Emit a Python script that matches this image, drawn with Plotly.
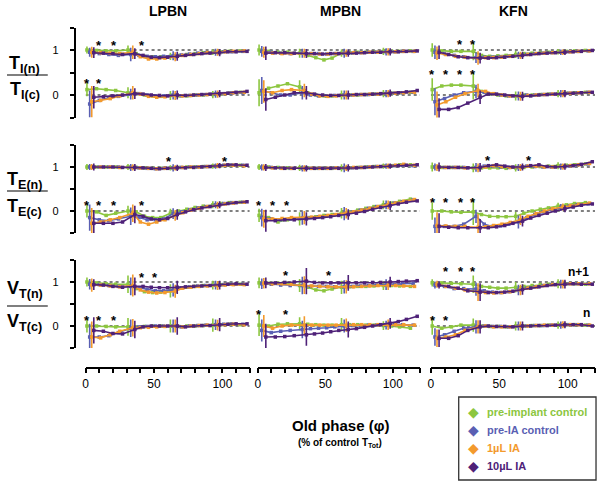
import plotly.graph_objects as go

# ---------------- data ----------------
SERIES = ["pre-implant control", "pre-IA control", "1µL IA", "10µL IA"]
COLORS = ["#8cc63f", "#5a5fb3", "#f39a2d", "#4e2178"]
NUCLEI = ["LPBN", "MPBN", "KFN"]

# old phase (% of control TTot) for each series
X_GREEN = [1, 8, 15, 22, 31, 37, 43, 49, 55, 62, 68, 74, 80, 86, 93, 99, 105, 113]
X_BLUE = [3, 10, 17, 24, 33, 39, 45, 51, 57, 64, 70, 76, 82, 88, 95, 101, 107, 115]
X_ORANGE = [4.5, 11, 18, 25, 34.5, 40, 46, 52, 58, 65.5, 71, 77, 83, 89, 96.5, 102, 108, 116]
X_PURPLE = [6, 13, 20, 27, 36, 42, 48, 54, 60, 67, 73, 79, 85, 91, 98, 104, 110, 118]
X_SERIES = [X_GREEN, X_BLUE, X_ORANGE, X_PURPLE]
ERR_IDX = [0, 4, 9, 14]  # points carrying SEM bars

# ---- TI ----
LPBN_TI_N1 = [
    [1.00, 0.99, 0.98, 0.98, 1.00, 0.92, 0.86, 0.85, 0.85, 0.86, 0.88, 0.90, 0.92, 0.94, 0.95, 0.96, 0.97, 0.98],
    [0.95, 0.92, 0.90, 0.88, 0.90, 0.88, 0.86, 0.85, 0.86, 0.87, 0.89, 0.91, 0.93, 0.94, 0.95, 0.96, 0.96, 0.97],
    [0.95, 0.94, 0.93, 0.92, 0.95, 0.85, 0.80, 0.80, 0.82, 0.85, 0.88, 0.90, 0.92, 0.94, 0.95, 0.96, 0.97, 0.98],
    [0.94, 0.93, 0.92, 0.90, 0.92, 0.88, 0.84, 0.83, 0.84, 0.86, 0.88, 0.90, 0.92, 0.93, 0.94, 0.96, 0.96, 0.97]]
LPBN_TI_N1_ERR = [[0.08, 0.10, 0.08, 0.06], [0.10, 0.15, 0.10, 0.08], [0.12, 0.15, 0.10, 0.08], [0.12, 0.12, 0.10, 0.08]]
LPBN_TI_N = [
    [0.12, 0.14, 0.12, 0.10, 0.05, 0.03, 0.00, -0.02, -0.03, -0.01, -0.02, -0.02, 0.00, 0.00, 0.01, 0.02, 0.04, 0.06],
    [-0.20, -0.12, -0.06, -0.03, 0.02, 0.03, 0.00, -0.02, -0.02, 0.00, -0.02, -0.01, 0.00, 0.01, 0.02, 0.03, 0.04, 0.05],
    [-0.15, -0.12, -0.08, -0.02, 0.05, 0.02, -0.03, -0.05, -0.04, -0.01, -0.02, -0.01, 0.00, 0.01, 0.02, 0.03, 0.05, 0.06],
    [-0.05, -0.04, -0.02, 0.00, 0.03, 0.02, 0.00, -0.01, -0.02, 0.00, -0.01, 0.00, 0.01, 0.02, 0.03, 0.04, 0.06, 0.08]]
LPBN_TI_N_ERR = [[0.15, 0.12, 0.10, 0.08], [0.30, 0.12, 0.10, 0.08], [0.35, 0.15, 0.10, 0.08], [0.25, 0.12, 0.10, 0.08]]

MPBN_TI_N1 = [
    [1.00, 0.97, 0.95, 0.95, 0.93, 0.88, 0.83, 0.78, 0.82, 0.93, 0.94, 0.95, 0.95, 0.96, 0.97, 0.97, 0.97, 0.98],
    [0.97, 0.95, 0.93, 0.92, 0.93, 0.92, 0.92, 0.91, 0.92, 0.93, 0.93, 0.94, 0.95, 0.95, 0.96, 0.96, 0.97, 0.97],
    [0.95, 0.93, 0.92, 0.92, 0.93, 0.92, 0.91, 0.91, 0.92, 0.93, 0.94, 0.94, 0.95, 0.95, 0.96, 0.96, 0.97, 0.97],
    [0.93, 0.94, 0.94, 0.93, 0.92, 0.92, 0.91, 0.92, 0.92, 0.93, 0.93, 0.94, 0.95, 0.95, 0.96, 0.96, 0.97, 0.98]]
MPBN_TI_N1_ERR = [[0.12, 0.10, 0.08, 0.08], [0.12, 0.10, 0.10, 0.08], [0.12, 0.10, 0.08, 0.08], [0.15, 0.10, 0.08, 0.08]]
MPBN_TI_N = [
    [0.05, 0.15, 0.20, 0.25, 0.18, 0.05, 0.00, -0.02, -0.02, 0.00, 0.00, 0.00, 0.01, 0.02, 0.03, 0.04, 0.05, 0.06],
    [0.10, 0.05, 0.00, 0.00, 0.05, 0.00, -0.02, -0.02, -0.01, 0.00, 0.00, 0.01, 0.01, 0.02, 0.03, 0.04, 0.05, 0.06],
    [0.08, 0.05, 0.10, 0.12, 0.10, 0.02, -0.02, -0.03, -0.02, 0.00, 0.00, 0.01, 0.02, 0.02, 0.03, 0.04, 0.05, 0.06],
    [-0.10, -0.05, 0.00, 0.05, 0.05, 0.02, 0.00, -0.01, -0.01, 0.00, 0.01, 0.01, 0.02, 0.03, 0.04, 0.05, 0.07, 0.10]]
MPBN_TI_N_ERR = [[0.30, 0.15, 0.10, 0.08], [0.30, 0.15, 0.10, 0.08], [0.25, 0.15, 0.10, 0.08], [0.25, 0.15, 0.10, 0.08]]

KFN_TI_N1 = [
    [1.00, 0.98, 0.97, 0.97, 0.97, 0.88, 0.86, 0.87, 0.88, 0.90, 0.92, 0.93, 0.94, 0.95, 0.96, 0.97, 0.98, 0.99],
    [0.95, 0.92, 0.88, 0.85, 0.83, 0.84, 0.84, 0.85, 0.86, 0.88, 0.90, 0.92, 0.93, 0.94, 0.95, 0.96, 0.97, 0.98],
    [0.93, 0.90, 0.86, 0.84, 0.82, 0.83, 0.83, 0.84, 0.86, 0.88, 0.90, 0.92, 0.93, 0.94, 0.95, 0.96, 0.97, 0.98],
    [0.95, 0.90, 0.85, 0.83, 0.82, 0.82, 0.83, 0.84, 0.86, 0.88, 0.90, 0.92, 0.93, 0.94, 0.95, 0.96, 0.97, 0.99]]
KFN_TI_N1_ERR = [[0.15, 0.20, 0.08, 0.06], [0.15, 0.12, 0.08, 0.06], [0.15, 0.15, 0.08, 0.06], [0.15, 0.12, 0.08, 0.06]]
KFN_TI_N = [
    [0.12, 0.20, 0.22, 0.22, 0.20, 0.08, 0.02, 0.00, -0.02, -0.02, 0.00, 0.00, 0.01, 0.02, 0.03, 0.04, 0.05, 0.06],
    [-0.15, -0.08, 0.00, 0.05, 0.08, 0.06, 0.02, 0.00, -0.02, -0.02, 0.00, 0.00, 0.01, 0.02, 0.03, 0.04, 0.05, 0.06],
    [-0.22, -0.15, -0.05, 0.03, 0.10, 0.08, 0.03, 0.00, -0.02, -0.03, -0.01, 0.00, 0.01, 0.02, 0.03, 0.04, 0.05, 0.06],
    [-0.32, -0.32, -0.28, -0.18, -0.05, 0.02, 0.02, 0.00, -0.02, -0.03, -0.02, 0.00, 0.01, 0.02, 0.03, 0.04, 0.05, 0.06]]
KFN_TI_N_ERR = [[0.25, 0.30, 0.10, 0.08], [0.30, 0.15, 0.10, 0.08], [0.30, 0.15, 0.10, 0.08], [0.25, 0.15, 0.10, 0.08]]

# ---- TE ----
LPBN_TE_N1 = [
    [1.00, 1.00, 1.00, 1.00, 1.00, 0.99, 0.98, 0.97, 0.97, 0.98, 0.99, 1.00, 1.00, 1.01, 1.02, 1.03, 1.04, 1.04],
    [1.00, 1.00, 1.00, 1.00, 0.99, 0.98, 0.97, 0.96, 0.97, 0.98, 0.99, 1.00, 1.00, 1.01, 1.02, 1.04, 1.05, 1.04],
    [1.00, 1.00, 1.00, 0.99, 0.99, 0.98, 0.97, 0.96, 0.97, 0.98, 0.99, 1.00, 1.00, 1.01, 1.03, 1.04, 1.04, 1.03],
    [1.00, 1.00, 1.00, 0.99, 0.99, 0.98, 0.97, 0.96, 0.97, 0.98, 0.98, 0.99, 1.00, 1.01, 1.03, 1.05, 1.05, 1.04]]
LPBN_TE_N1_ERR = [[0.07, 0.07, 0.06, 0.06], [0.07, 0.08, 0.08, 0.06], [0.07, 0.07, 0.06, 0.06], [0.08, 0.08, 0.07, 0.06]]
LPBN_TE_N = [
    [0.00, -0.02, -0.10, -0.05, 0.00, -0.02, -0.12, -0.15, -0.15, -0.05, 0.00, 0.04, 0.08, 0.11, 0.14, 0.17, 0.19, 0.20],
    [-0.15, -0.20, -0.22, -0.18, -0.12, -0.15, -0.20, -0.20, -0.18, -0.06, -0.02, 0.03, 0.07, 0.10, 0.14, 0.17, 0.19, 0.20],
    [-0.28, -0.25, -0.20, -0.15, -0.05, -0.25, -0.30, -0.25, -0.20, -0.10, -0.04, 0.02, 0.06, 0.10, 0.13, 0.16, 0.18, 0.20],
    [-0.28, -0.28, -0.28, -0.25, -0.08, -0.12, -0.18, -0.20, -0.17, -0.08, -0.02, 0.03, 0.07, 0.10, 0.14, 0.17, 0.19, 0.21]]
LPBN_TE_N_ERR = [[0.15, 0.12, 0.10, 0.08], [0.30, 0.20, 0.12, 0.08], [0.35, 0.20, 0.12, 0.08], [0.30, 0.20, 0.12, 0.08]]

MPBN_TE_N1 = [
    [1.00, 1.00, 0.99, 0.98, 0.98, 0.98, 0.97, 0.97, 0.97, 0.98, 0.98, 0.99, 1.00, 1.01, 1.02, 1.03, 1.05, 1.05],
    [0.99, 0.99, 0.98, 0.97, 0.97, 0.97, 0.97, 0.97, 0.98, 0.98, 0.98, 0.99, 1.00, 1.01, 1.02, 1.03, 1.04, 1.03],
    [0.99, 0.98, 0.97, 0.97, 0.97, 0.97, 0.97, 0.97, 0.98, 0.98, 0.99, 0.99, 1.00, 1.01, 1.02, 1.04, 1.06, 1.04],
    [0.99, 0.98, 0.97, 0.97, 0.97, 0.97, 0.97, 0.97, 0.97, 0.98, 0.98, 0.99, 1.00, 1.01, 1.02, 1.03, 1.04, 1.05]]
MPBN_TE_N1_ERR = [[0.07, 0.07, 0.08, 0.06], [0.07, 0.07, 0.10, 0.06], [0.07, 0.07, 0.07, 0.06], [0.08, 0.07, 0.08, 0.06]]
MPBN_TE_N = [
    [-0.10, -0.15, -0.25, -0.20, -0.18, -0.15, -0.13, -0.10, -0.08, -0.05, -0.02, 0.02, 0.06, 0.10, 0.14, 0.18, 0.22, 0.27],
    [-0.15, -0.18, -0.20, -0.18, -0.16, -0.15, -0.13, -0.11, -0.09, -0.06, -0.02, 0.02, 0.06, 0.10, 0.14, 0.18, 0.21, 0.25],
    [-0.18, -0.18, -0.17, -0.15, -0.15, -0.14, -0.12, -0.10, -0.08, -0.05, -0.02, 0.02, 0.06, 0.10, 0.14, 0.18, 0.22, 0.26],
    [-0.22, -0.22, -0.20, -0.20, -0.18, -0.17, -0.15, -0.13, -0.10, -0.08, -0.05, -0.01, 0.04, 0.08, 0.12, 0.16, 0.20, 0.23]]
MPBN_TE_N_ERR = [[0.15, 0.15, 0.12, 0.10], [0.20, 0.15, 0.15, 0.10], [0.20, 0.15, 0.12, 0.10], [0.25, 0.15, 0.12, 0.10]]

KFN_TE_N1 = [
    [1.00, 0.99, 0.99, 0.99, 0.98, 0.98, 0.98, 0.98, 0.97, 0.98, 0.99, 1.00, 1.01, 1.02, 1.03, 1.04, 1.05, 1.07],
    [1.00, 0.99, 0.99, 0.99, 0.99, 1.02, 1.02, 1.00, 0.99, 0.99, 1.02, 1.01, 1.00, 1.00, 1.01, 1.02, 1.04, 1.07],
    [0.99, 0.99, 0.99, 0.98, 0.98, 1.00, 1.03, 1.01, 0.99, 0.99, 1.02, 1.02, 1.00, 1.00, 1.01, 1.03, 1.05, 1.08],
    [1.00, 0.99, 0.99, 0.98, 0.99, 1.03, 1.05, 1.02, 1.00, 1.00, 1.03, 1.05, 1.01, 1.00, 1.01, 1.03, 1.06, 1.12]]
KFN_TE_N1_ERR = [[0.10, 0.10, 0.08, 0.08], [0.08, 0.10, 0.08, 0.07], [0.08, 0.10, 0.08, 0.07], [0.10, 0.10, 0.08, 0.07]]
KFN_TE_N = [
    [0.00, 0.00, -0.02, -0.03, -0.02, -0.08, -0.12, -0.13, -0.13, -0.12, -0.05, 0.00, 0.04, 0.07, 0.11, 0.14, 0.17, 0.19],
    [-0.35, -0.35, -0.35, -0.30, -0.12, -0.30, -0.35, -0.34, -0.30, -0.25, -0.15, -0.08, -0.02, 0.03, 0.08, 0.11, 0.14, 0.16],
    [-0.33, -0.34, -0.35, -0.35, -0.37, -0.36, -0.33, -0.30, -0.26, -0.20, -0.12, -0.06, 0.00, 0.05, 0.09, 0.12, 0.15, 0.18],
    [-0.35, -0.37, -0.38, -0.38, -0.38, -0.38, -0.36, -0.33, -0.28, -0.23, -0.16, -0.10, -0.05, 0.00, 0.05, 0.09, 0.13, 0.16]]
KFN_TE_N_ERR = [[0.20, 0.30, 0.10, 0.08], [0.20, 0.15, 0.15, 0.08], [0.30, 0.30, 0.12, 0.08], [0.30, 0.20, 0.12, 0.08]]

# ---- VT ----
LPBN_VT_N1 = [
    [1.00, 0.98, 0.96, 0.95, 0.95, 0.85, 0.78, 0.76, 0.77, 0.80, 0.86, 0.88, 0.90, 0.92, 0.93, 0.94, 0.95, 0.95],
    [0.95, 0.94, 0.92, 0.90, 0.90, 0.87, 0.83, 0.80, 0.80, 0.82, 0.87, 0.89, 0.91, 0.92, 0.93, 0.94, 0.95, 0.95],
    [0.93, 0.93, 0.91, 0.89, 0.92, 0.82, 0.77, 0.75, 0.76, 0.79, 0.86, 0.88, 0.90, 0.91, 0.92, 0.93, 0.94, 0.94],
    [0.94, 0.93, 0.90, 0.88, 0.90, 0.90, 0.88, 0.87, 0.87, 0.88, 0.89, 0.90, 0.91, 0.92, 0.93, 0.95, 0.96, 0.95]]
LPBN_VT_N1_ERR = [[0.10, 0.20, 0.15, 0.10], [0.12, 0.20, 0.15, 0.10], [0.15, 0.25, 0.15, 0.10], [0.12, 0.20, 0.15, 0.10]]
LPBN_VT_N = [
    [0.00, 0.00, -0.01, -0.02, -0.02, -0.02, -0.01, 0.00, 0.00, 0.00, -0.01, 0.00, 0.00, 0.01, 0.02, 0.03, 0.04, 0.03],
    [-0.25, -0.25, -0.22, -0.15, -0.05, -0.02, -0.01, 0.00, 0.00, 0.00, -0.02, 0.00, 0.01, 0.02, 0.03, 0.04, 0.05, 0.04],
    [-0.25, -0.27, -0.20, -0.12, -0.04, -0.04, -0.03, -0.02, -0.01, 0.00, -0.02, 0.00, 0.01, 0.02, 0.02, 0.03, 0.04, 0.03],
    [-0.10, -0.12, -0.17, -0.18, -0.08, -0.02, 0.00, 0.00, 0.00, 0.00, -0.02, 0.00, 0.01, 0.01, 0.03, 0.04, 0.05, 0.05]]
LPBN_VT_N_ERR = [[0.15, 0.20, 0.15, 0.15], [0.30, 0.20, 0.15, 0.12], [0.35, 0.20, 0.15, 0.12], [0.30, 0.20, 0.20, 0.15]]

MPBN_VT_N1 = [
    [0.98, 0.97, 0.97, 0.97, 0.92, 0.88, 0.82, 0.80, 0.84, 0.88, 0.89, 0.90, 0.90, 0.91, 0.92, 0.92, 0.91, 0.90],
    [0.96, 0.95, 0.93, 0.92, 0.92, 0.90, 0.90, 0.90, 0.89, 0.89, 0.90, 0.91, 0.92, 0.93, 0.94, 0.95, 0.96, 0.97],
    [0.97, 0.96, 0.96, 0.95, 0.93, 0.91, 0.90, 0.89, 0.89, 0.89, 0.89, 0.90, 0.91, 0.92, 0.92, 0.92, 0.91, 0.90],
    [0.98, 0.98, 0.99, 1.00, 1.02, 0.99, 0.98, 0.98, 0.98, 0.98, 0.98, 0.98, 0.99, 0.99, 1.00, 1.01, 1.02, 1.03]]
MPBN_VT_N1_ERR = [[0.12, 0.15, 0.15, 0.10], [0.12, 0.20, 0.15, 0.12], [0.12, 0.20, 0.15, 0.10], [0.12, 0.30, 0.18, 0.12]]
MPBN_VT_N = [
    [0.02, 0.00, 0.04, 0.05, 0.05, 0.04, 0.03, 0.02, 0.02, 0.03, 0.03, 0.03, 0.02, 0.02, 0.01, 0.00, -0.02, -0.05],
    [-0.10, -0.15, -0.12, -0.10, -0.08, -0.06, -0.05, -0.04, -0.02, 0.00, 0.01, 0.01, 0.02, 0.02, 0.02, 0.03, 0.03, 0.02],
    [0.00, -0.05, 0.00, 0.02, 0.02, 0.02, 0.02, 0.02, 0.02, 0.02, 0.03, 0.03, 0.03, 0.03, 0.03, 0.03, 0.03, 0.02],
    [-0.25, -0.25, -0.24, -0.22, -0.20, -0.18, -0.16, -0.13, -0.10, -0.08, -0.06, -0.03, 0.00, 0.03, 0.06, 0.10, 0.15, 0.22]]
MPBN_VT_N_ERR = [[0.25, 0.15, 0.15, 0.10], [0.25, 0.20, 0.15, 0.10], [0.25, 0.20, 0.15, 0.12], [0.30, 0.25, 0.18, 0.12]]

KFN_VT_N1 = [
    [0.98, 0.98, 0.97, 0.96, 0.95, 0.90, 0.88, 0.86, 0.86, 0.88, 0.90, 0.92, 0.94, 0.95, 0.96, 0.96, 0.96, 0.95],
    [0.93, 0.90, 0.85, 0.85, 0.84, 0.80, 0.77, 0.76, 0.78, 0.82, 0.86, 0.89, 0.92, 0.94, 0.95, 0.96, 0.96, 0.96],
    [0.95, 0.90, 0.86, 0.82, 0.77, 0.76, 0.75, 0.76, 0.78, 0.82, 0.86, 0.89, 0.92, 0.94, 0.95, 0.96, 0.96, 0.96],
    [0.93, 0.90, 0.86, 0.80, 0.77, 0.76, 0.76, 0.77, 0.79, 0.83, 0.86, 0.89, 0.92, 0.94, 0.95, 0.96, 0.95, 0.95]]
KFN_VT_N1_ERR = [[0.08, 0.20, 0.12, 0.10], [0.08, 0.15, 0.12, 0.10], [0.08, 0.20, 0.12, 0.10], [0.08, 0.20, 0.12, 0.10]]
KFN_VT_N = [
    [0.00, -0.05, -0.02, 0.02, 0.02, 0.00, -0.01, -0.01, -0.02, 0.00, 0.00, 0.01, 0.01, 0.02, 0.02, 0.03, 0.03, 0.02],
    [-0.25, -0.20, -0.12, -0.05, -0.02, 0.00, -0.01, -0.01, -0.02, 0.00, 0.00, 0.01, 0.01, 0.02, 0.02, 0.03, 0.03, 0.02],
    [-0.28, -0.25, -0.20, -0.10, -0.02, 0.00, -0.02, -0.02, -0.02, 0.00, 0.00, 0.01, 0.02, 0.02, 0.03, 0.03, 0.03, 0.02],
    [-0.28, -0.28, -0.22, -0.10, -0.02, 0.00, -0.01, -0.01, -0.02, 0.00, 0.00, 0.01, 0.01, 0.02, 0.03, 0.03, 0.03, 0.00]]
KFN_VT_N_ERR = [[0.20, 0.15, 0.10, 0.08], [0.20, 0.15, 0.10, 0.08], [0.20, 0.15, 0.10, 0.08], [0.20, 0.15, 0.10, 0.08]]

# significance markers (old phase, height)
LPBN_TI_STARS = [(10, 1.17), (21, 1.17), (41, 1.17), (1, 0.33), (10, 0.33)]
MPBN_TI_STARS = []
KFN_TI_STARS = [(21, 1.2), (31, 1.2), (1, 0.52), (11, 0.52), (21, 0.52), (31, 0.52)]
LPBN_TE_STARS = [(61, 1.19), (102, 1.19), (1, 0.2), (10, 0.2), (21, 0.2), (41, 0.2)]
MPBN_TE_STARS = [(1, 0.2), (11, 0.2), (22, 0.2)]
KFN_TE_STARS = [(42, 1.21), (72, 1.21), (1.5, 0.27), (11, 0.27), (22, 0.27), (31, 0.27)]
LPBN_VT_STARS = [(41, 1.17), (51, 1.17), (1, 0.19), (10, 0.19), (21, 0.19)]
MPBN_VT_STARS = [(21, 1.21), (53, 1.21), (1, 0.34), (21, 0.34)]
KFN_VT_STARS = [(11, 1.3), (22, 1.3), (31, 1.3), (1.5, 0.19), (11, 0.19)]

X_TICKS = list(range(0, 121, 10))
X_TICKTEXT = ["0" if t == 0 else "50" if t == 50 else "100" if t == 100 else "" for t in X_TICKS]

PANELS = [
    [(LPBN_TI_N1, LPBN_TI_N1_ERR, LPBN_TI_N, LPBN_TI_N_ERR, LPBN_TI_STARS),
     (MPBN_TI_N1, MPBN_TI_N1_ERR, MPBN_TI_N, MPBN_TI_N_ERR, MPBN_TI_STARS),
     (KFN_TI_N1, KFN_TI_N1_ERR, KFN_TI_N, KFN_TI_N_ERR, KFN_TI_STARS)],
    [(LPBN_TE_N1, LPBN_TE_N1_ERR, LPBN_TE_N, LPBN_TE_N_ERR, LPBN_TE_STARS),
     (MPBN_TE_N1, MPBN_TE_N1_ERR, MPBN_TE_N, MPBN_TE_N_ERR, MPBN_TE_STARS),
     (KFN_TE_N1, KFN_TE_N1_ERR, KFN_TE_N, KFN_TE_N_ERR, KFN_TE_STARS)],
    [(LPBN_VT_N1, LPBN_VT_N1_ERR, LPBN_VT_N, LPBN_VT_N_ERR, LPBN_VT_STARS),
     (MPBN_VT_N1, MPBN_VT_N1_ERR, MPBN_VT_N, MPBN_VT_N_ERR, MPBN_VT_STARS),
     (KFN_VT_N1, KFN_VT_N1_ERR, KFN_VT_N, KFN_VT_N_ERR, KFN_VT_STARS)],
]
ROW_LABELS = [("T", "I"), ("T", "E"), ("V", "T")]

# ---------------- layout ----------------
W, H = 600, 485
FONT = "Arial, 'Liberation Sans', Helvetica, sans-serif"


def px(xp):
    return xp / W


def py(yp):
    return 1 - yp / H


def ann(x, y, text, size, color="black", xanchor="center", family=FONT, **kw):
    d = dict(x=px(x), y=py(y), xref="paper", yref="paper", text=text, showarrow=False,
             xanchor=xanchor, yanchor="middle", font=dict(size=size, family=family, color=color))
    d.update(kw)
    return d


COL_PX = [(83, 248), (256, 419), (430, 595)]
ROW_PX = [(27.5, 117.5), (145, 233), (260, 348)]
XAXIS_PX = 366
YAXIS_X_PX = 72

fig = go.Figure()
layout = dict(width=W, height=H, margin=dict(l=0, r=0, t=0, b=0),
              plot_bgcolor="white", paper_bgcolor="white", showlegend=False,
              font=dict(family=FONT, color="black"))
shapes, annotations = [], []


def full_err(vals):
    arr = [0.0] * 18
    for i, v in zip(ERR_IDX, vals):
        arr[i] = v
    return arr


for r in range(3):
    for c in range(3):
        k = r * 3 + c + 1
        xa = "xaxis" if k == 1 else f"xaxis{k}"
        ya = "yaxis" if k == 1 else f"yaxis{k}"
        xr = "x" if k == 1 else f"x{k}"
        yr = "y" if k == 1 else f"y{k}"
        layout[xa] = dict(domain=[px(COL_PX[c][0]), px(COL_PX[c][1])], range=[0, 120],
                          visible=False, anchor=yr, fixedrange=True)
        ydict = dict(domain=[py(ROW_PX[r][1]), py(ROW_PX[r][0])], range=[-0.5, 1.5],
                     fixedrange=True, showgrid=False, zeroline=False)
        if c == 0:
            ydict.update(anchor="free", position=px(YAXIS_X_PX), showline=True, linecolor="black",
                         linewidth=1.5, ticks="outside", ticklen=4, tickwidth=1.5, tickcolor="black",
                         tickvals=[-0.5, 0, 0.5, 1, 1.5], ticktext=["", "0", "", "1", ""],
                         tickfont=dict(size=11, family=FONT, color="black"),
                         ticklabelstandoff=9)
        else:
            ydict.update(visible=False, anchor=xr)
        layout[ya] = ydict

        n1, n1e, n0, n0e, stars = PANELS[r][c]
        # dotted reference lines
        for yv in (0, 1):
            shapes.append(dict(type="line", xref=xr, yref=yr, x0=0, x1=120, y0=yv, y1=yv,
                               line=dict(color="black", width=1.2, dash="dot"), layer="below"))
        for s in range(4):
            for vals, errs in ((n1[s], n1e[s]), (n0[s], n0e[s])):
                fig.add_trace(go.Scatter(
                    x=X_SERIES[s], y=vals, xaxis=xr, yaxis=yr, mode="lines+markers",
                    line=dict(color=COLORS[s], width=1.6),
                    marker=dict(color=COLORS[s], size=3.5, symbol="square"),
                    error_y=dict(type="data", array=full_err(errs), visible=True,
                                 thickness=1.6, width=0, color=COLORS[s]),
                    cliponaxis=False, hoverinfo="skip"))
        for (sx, sy) in stars:
            annotations.append(dict(x=sx, y=sy, xref=xr, yref=yr, text="<b>*</b>", showarrow=False,
                                    xanchor="center", yanchor="middle",
                                    font=dict(size=13, family=FONT, color="black"), yshift=-3))

# bottom x axes (separate thin rows)
for c in range(3):
    k = 10 + c
    layout[f"xaxis{k}"] = dict(domain=[px(COL_PX[c][0]), px(COL_PX[c][1])], range=[0, 120],
                               anchor=f"y{k}", showline=True, linecolor="black", linewidth=1.5,
                               ticks="outside", ticklen=5, tickwidth=1.5, tickcolor="black",
                               tickvals=X_TICKS, ticktext=X_TICKTEXT, showgrid=False, zeroline=False,
                               tickfont=dict(size=12, family=FONT, color="black"), fixedrange=True)
    layout[f"yaxis{k}"] = dict(domain=[py(XAXIS_PX + 0.5), py(XAXIS_PX)], visible=False,
                               anchor=f"x{k}", range=[0, 1], fixedrange=True)
    fig.add_trace(go.Scatter(x=[None], y=[None], xaxis=f"x{k}", yaxis=f"y{k}", showlegend=False))

# column titles
TITLE_X = [166, 339, 513]
for c, name in enumerate(NUCLEI):
    annotations.append(ann(TITLE_X[c], 11, f"<b>{name}</b>", 14))

# row labels (ratios)
ROW_LABEL_PX = [(65, 75, 90), (180, 191, 207), (289, 306, 322)]
for r, (big, sub) in enumerate(ROW_LABELS):
    ytop, yline, ybot = ROW_LABEL_PX[r]
    annotations.append(ann(22, ytop, f"<b>{big}<sub>{sub}(n)</sub></b>", 18))
    annotations.append(ann(22, ybot, f"<b>{big}<sub>{sub}(c)</sub></b>", 18))
    shapes.append(dict(type="line", xref="paper", yref="paper", x0=px(4), x1=px(45),
                       y0=py(yline), y1=py(yline), line=dict(color="black", width=1.2)))

# n+1 / n labels
annotations.append(ann(578, 272, "<b>n+1</b>", 12))
annotations.append(ann(586, 313, "<b>n</b>", 12))

# x title
annotations.append(ann(339, 425, "<b>Old phase (φ)</b>", 15))
annotations.append(ann(339, 443, "<b>(% of control T<sub>Tot</sub>)</b>", 10))

# legend box
shapes.append(dict(type="rect", xref="paper", yref="paper", x0=px(458), x1=px(596),
                   y0=py(480), y1=py(397), line=dict(color="#333333", width=1.3)))
LEG_Y = [412, 430, 448, 466]
for s in range(4):
    annotations.append(ann(473, LEG_Y[s], "◆", 14, color=COLORS[s], family="DejaVu Sans"))
    annotations.append(ann(484, LEG_Y[s], f"<b>{SERIES[s]}</b>", 11, color=COLORS[s], xanchor="left"))

layout["shapes"] = shapes
layout["annotations"] = annotations
fig.update_layout(**layout)
fig.write_html("out.html", config={"displayModeBar": False},
               post_script="document.body.style.margin='0';document.body.style.overflow='hidden';")
